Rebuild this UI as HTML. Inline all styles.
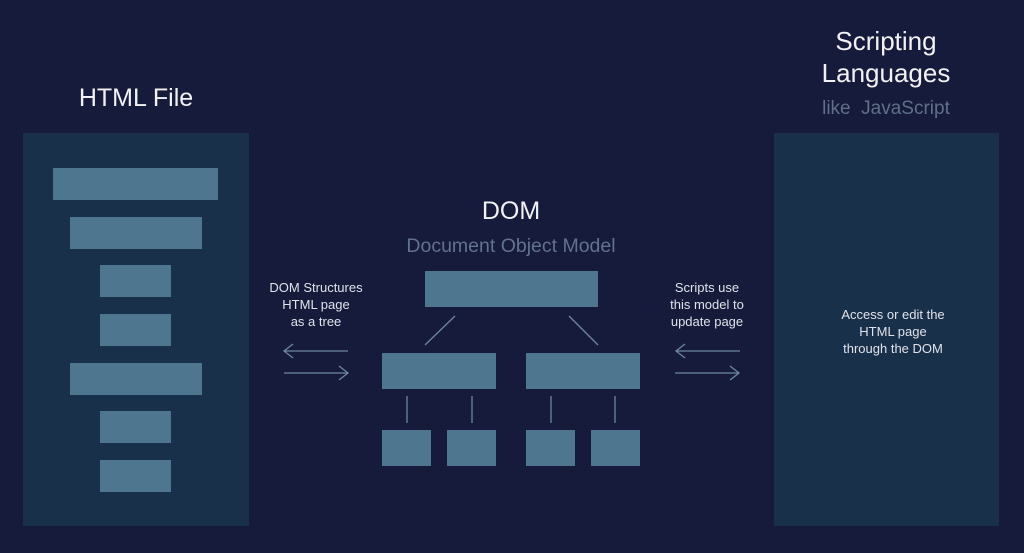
<!DOCTYPE html>
<html><head><meta charset="utf-8"><style>
html,body{margin:0;padding:0}
body{width:1024px;height:553px;background:#161b3b;position:relative;overflow:hidden;font-family:"Liberation Sans","DejaVu Sans",sans-serif}
.p{position:absolute;background:#19304a}
.b{position:absolute;background:#4e778f}
.t{position:absolute;text-align:center;white-space:nowrap}
</style></head><body>
<div class="p" style="left:23px;top:133px;width:226px;height:393px"></div>
<div class="p" style="left:774px;top:133px;width:225px;height:393px"></div>

<div class="b" style="left:53px;top:168px;width:165px;height:32px"></div>
<div class="b" style="left:70px;top:217px;width:132px;height:32px"></div>
<div class="b" style="left:100px;top:265px;width:71px;height:32px"></div>
<div class="b" style="left:100px;top:314px;width:71px;height:32px"></div>
<div class="b" style="left:70px;top:363px;width:132px;height:32px"></div>
<div class="b" style="left:100px;top:411px;width:71px;height:32px"></div>
<div class="b" style="left:100px;top:460px;width:71px;height:32px"></div>

<div class="b" style="left:425px;top:271px;width:173px;height:36px"></div>
<div class="b" style="left:382px;top:353px;width:114px;height:36px"></div>
<div class="b" style="left:526px;top:353px;width:114px;height:36px"></div>
<div class="b" style="left:382px;top:430px;width:49px;height:36px"></div>
<div class="b" style="left:447px;top:430px;width:49px;height:36px"></div>
<div class="b" style="left:526px;top:430px;width:49px;height:36px"></div>
<div class="b" style="left:591px;top:430px;width:49px;height:36px"></div>

<svg width="1024" height="553" style="position:absolute;left:0;top:0" fill="none" stroke="#6e86a0" stroke-width="1.3">
<line x1="455" y1="316" x2="425" y2="345"/>
<line x1="569" y1="316" x2="598" y2="345"/>
<line x1="407" y1="396" x2="407" y2="423"/>
<line x1="472" y1="396" x2="472" y2="423"/>
<line x1="551" y1="396" x2="551" y2="423"/>
<line x1="615" y1="396" x2="615" y2="423"/>
<path d="M348 351H284M293 344L284 351L293 358"/>
<path d="M284 373H348M339 366L348 373L339 380"/>
<path d="M740 351H676M685 344L676 351L685 358"/>
<path d="M675 373H739M730 366L739 373L730 380"/>
</svg>

<div class="t" style="left:36px;width:200px;top:84px;font-size:25px;color:#f2f2f4">HTML File</div>
<div class="t" style="left:786px;width:200px;top:25px;font-size:26px;line-height:32px;color:#f2f2f4">Scripting<br>Languages</div>
<div class="t" style="left:786px;width:200px;top:98px;font-size:19px;color:#5f7088">like&nbsp; JavaScript</div>
<div class="t" style="left:411px;width:200px;top:197px;font-size:25px;color:#f2f2f4">DOM</div>
<div class="t" style="left:361px;width:300px;top:235px;font-size:19.5px;color:#62728c">Document Object Model</div>
<div class="t" style="left:246px;width:140px;top:279px;font-size:13px;line-height:17px;color:#e0e2ea">DOM Structures<br>HTML page<br>as a tree</div>
<div class="t" style="left:637px;width:140px;top:279px;font-size:13px;line-height:17px;color:#e0e2ea">Scripts use<br>this model to<br>update page</div>
<div class="t" style="left:813px;width:160px;top:306px;font-size:13px;line-height:17px;color:#e0e2ea">Access or edit the<br>HTML page<br>through the DOM</div>
</body></html>
